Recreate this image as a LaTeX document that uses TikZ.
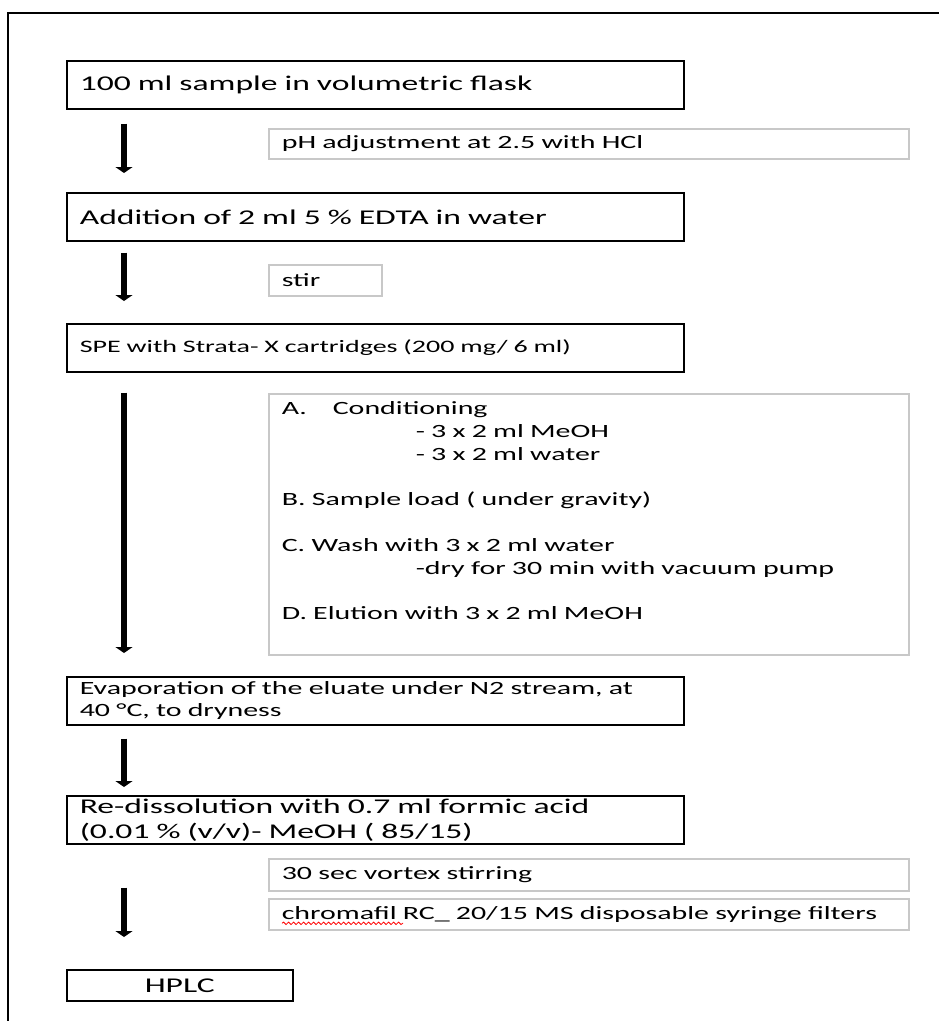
\documentclass[tikz,border=0pt]{standalone}
\usepackage{fontspec}
\setmainfont{Carlito}[FakeStretch=1.6]
\usepackage{xcolor}
\usepackage{tikz}
\usetikzlibrary{arrows.meta, positioning, decorations.pathmorphing}
\definecolor{notegray}{RGB}{200,200,200}
\newcommand{\bigtext}{\fontsize{21}{25}\selectfont}
\newcommand{\smalltext}{\fontsize{18.7}{22}\selectfont}

\begin{document}
\begin{tikzpicture}[x=1pt, y=-1pt,
    stepbox/.style={draw, line width=1.6pt, anchor=north west, align=left, font=\bigtext,
        text width=591pt, inner xsep=13pt, inner ysep=1pt, minimum height=48pt},
    notebox/.style={draw=notegray, line width=1.6pt, anchor=north west, align=left, font=\smalltext,
        text width=614pt, inner xsep=13pt, inner ysep=1pt, minimum height=31pt},
    flow/.style={line width=5.5pt, -{Triangle[length=6pt, width=17pt]}}]
    \useasboundingbox (0,0) rectangle (939,1021);
    \draw[line width=1.5pt] (8,1030) -- (8,13) -- (950,13);

    \node[stepbox] (flask) at (66,60) {100 ml sample in volumetric flask};
    \node[notebox, minimum height=30pt] (ph) at (268,128) {pH adjustment at 2.5 with HCl};
    \node[stepbox] (edta) at (66,192) {Addition of 2 ml 5 \% EDTA in water};
    \node[notebox, text width=87pt] (stir) at (268,264) {stir};
    \node[stepbox, font=\fontsize{17.5}{21}\selectfont] (spe) at (66,323) {SPE with Strata- X cartridges (200 mg/ 6 ml)};
    \node[notebox, inner ysep=8pt] (spesteps) at (268,393) {%
        \parbox[c][245pt][t]{614pt}{\fontsize{18.7}{22.8}\selectfont
        \makebox[51pt][l]{A.}Conditioning\\
        \hspace*{134pt}- 3 x 2 ml MeOH\\
        \hspace*{134pt}- 3 x 2 ml water\\
        ~\\
        B. Sample load ( under gravity)\\
        ~\\
        C. Wash with 3 x 2 ml water\\
        \hspace*{134pt}-dry for 30 min with vacuum pump\\
        ~\\
        D. Elution with 3 x 2 ml MeOH}};
    \node[stepbox, font=\smalltext] (evap) at (66,676) {Evaporation of the eluate under N2 stream, at\\40 °C, to dryness};
    \node[stepbox] (redis) at (66,795) {Re-dissolution with 0.7 ml formic acid\\(0.01 \% (v/v)- MeOH ( 85/15)};
    \node[notebox, minimum height=32pt] (vortex) at (268,858) {30 sec vortex stirring};
    \node[notebox] (filter) at (268,898) {chromafil RC\_ 20/15 MS disposable syringe filters};
    \node[stepbox, text width=200pt, align=center, minimum height=31pt] (hplc) at (66,969) {HPLC};

    % spell-check mark
    \draw[red, line width=0.8pt, decorate, decoration={snake, amplitude=1.2pt, segment length=5pt}]
        ([xshift=14pt, yshift=-9pt]filter.west) -- ([xshift=135pt, yshift=-9pt]filter.west);

    % arrows
    \draw[flow, shorten <=14pt, shorten >=19pt] ([xshift=58pt]flask.south west) -- ([xshift=58pt]edta.north west);
    \draw[flow, shorten <=11pt, shorten >=22pt] ([xshift=58pt]edta.south west) -- ([xshift=58pt]spe.north west);
    \draw[flow, shorten <=20pt, shorten >=23pt] ([xshift=58pt]spe.south west) -- ([xshift=58pt]evap.north west);
    \draw[flow, shorten <=13pt, shorten >=8pt] ([xshift=58pt]evap.south west) -- ([xshift=58pt]redis.north west);
    \draw[flow, shorten <=43pt, shorten >=32pt] ([xshift=58pt]redis.south west) -- ([xshift=58pt]hplc.north west);
\end{tikzpicture}
\end{document}
